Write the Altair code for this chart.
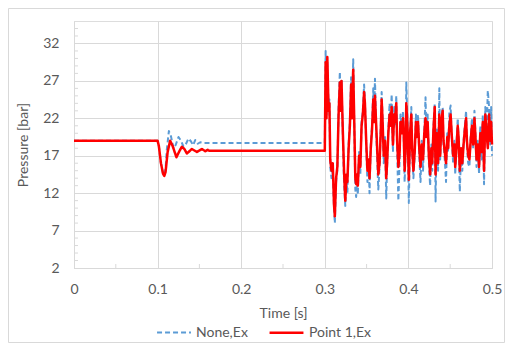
import altair as alt
import pandas as pd

# ---- data ----
# start-up transient (0 - 0.3 s)
t_none_pre = [0, 0.1, 0.1015, 0.104, 0.1065, 0.108, 0.1095, 0.111, 0.1135, 0.116, 0.119, 0.1215,
              0.125, 0.128, 0.131, 0.134, 0.137, 0.140, 0.1425, 0.145, 0.148, 0.151, 0.155, 0.300]
p_none_pre = [19, 19, 18.3, 16.0, 14.6, 14.4, 15.2, 17.8, 20.3, 19.6, 18.0, 18.4,
              19.5, 19.0, 18.2, 18.6, 19.3, 18.9, 18.4, 19.1, 18.6, 18.8, 18.7, 18.7]

t_point_pre = [0, 0.1, 0.1015, 0.104, 0.1065, 0.108, 0.1095, 0.112, 0.115, 0.118, 0.1225, 0.126,
               0.129, 0.132, 0.135, 0.138, 0.141, 0.144, 0.147, 0.150, 0.153, 0.157, 0.160, 0.162, 0.300]
p_point_pre = [19, 19, 18.3, 16.0, 14.6, 14.3, 14.8, 17.5, 19.0, 18.3, 16.8, 17.6,
               18.2, 17.9, 17.3, 17.6, 17.9, 17.7, 17.5, 17.7, 17.9, 17.6, 17.8, 17.65, 17.65]

# oscillating part (0.3 - 0.5 s)
t_osc = [0.3010, 0.3020, 0.3030, 0.3045, 0.3055, 0.3065, 0.3080, 0.3095, 0.3110, 0.3120,
         0.3135, 0.3150, 0.3165, 0.3180, 0.3190, 0.3200, 0.3215, 0.3230, 0.3245, 0.3260,
         0.3270, 0.3285, 0.3300, 0.3315, 0.3325, 0.3340, 0.3355, 0.3365, 0.3375, 0.3385,
         0.3395, 0.3410, 0.3425, 0.3440, 0.3455, 0.3470, 0.3480, 0.3495, 0.3510, 0.3525,
         0.3535, 0.3550, 0.3565, 0.3580, 0.3590, 0.3600, 0.3615, 0.3630, 0.3640, 0.3655,
         0.3670, 0.3680, 0.3690, 0.3705, 0.3720, 0.3735, 0.3745, 0.3760, 0.3775, 0.3785,
         0.3800, 0.3815, 0.3830, 0.3840, 0.3855, 0.3865, 0.3880, 0.3895, 0.3905, 0.3920,
         0.3935, 0.3945, 0.3955, 0.3965, 0.3975, 0.3990, 0.4005, 0.4020, 0.4035, 0.4045,
         0.4060, 0.4075, 0.4090, 0.4100, 0.4115, 0.4130, 0.4145, 0.4160, 0.4175, 0.4190,
         0.4205, 0.4215, 0.4230, 0.4245, 0.4260, 0.4275, 0.4285, 0.4300, 0.4315, 0.4325,
         0.4340, 0.4355, 0.4370, 0.4380, 0.4395, 0.4410, 0.4420, 0.4435, 0.4450, 0.4465,
         0.4475, 0.4490, 0.4505, 0.4520, 0.4535, 0.4550, 0.4560, 0.4575, 0.4590, 0.4600,
         0.4615, 0.4630, 0.4645, 0.4660, 0.4675, 0.4690, 0.4700, 0.4715, 0.4730, 0.4745,
         0.4760, 0.4775, 0.4790, 0.4800, 0.4815, 0.4830, 0.4845, 0.4860, 0.4875, 0.4890,
         0.4905, 0.4920, 0.4935, 0.4950, 0.4965, 0.4980, 0.4990, 0.5000]

p_point_osc = [29.5, 22.0, 30.2, 23.0, 24.0, 16.5, 15.0, 16.0, 10.5, 8.9,
               14.0, 15.5, 22.5, 26.8, 23.0, 27.0, 20.5, 15.0, 11.0, 14.5,
               13.5, 18.0, 21.0, 26.5, 22.0, 28.5, 20.0, 14.0, 13.2, 14.5,
               13.0, 17.0, 15.5, 21.0, 22.5, 25.5, 24.0, 19.0, 15.0, 16.5,
               14.0, 18.0, 20.5, 24.5, 21.5, 25.0, 21.0, 17.0, 14.5, 16.0,
               20.5, 24.5, 22.0, 17.0, 19.0, 14.0, 16.0, 20.0, 22.5, 21.0,
               23.5, 18.5, 22.5, 21.5, 24.0, 19.0, 15.5, 17.5, 21.5, 20.0,
               22.0, 19.5, 15.0, 17.5, 24.0, 20.5, 13.8, 20.0, 22.5, 18.0,
               15.0, 17.5, 21.5, 19.5, 21.5, 18.0, 15.5, 18.5, 16.5, 20.0,
               22.0, 19.5, 21.5, 17.0, 14.5, 18.0, 16.0, 20.5, 23.5, 14.5,
               20.0, 16.0, 22.5, 17.0, 21.5, 23.0, 19.0, 17.5, 16.0, 19.5,
               18.0, 21.0, 22.5, 19.5, 17.0, 18.5, 15.5, 18.0, 21.0, 19.5,
               15.0, 18.0, 16.0, 18.5, 20.5, 22.0, 19.0, 17.0, 16.5, 19.0,
               21.0, 18.5, 22.0, 20.0, 16.5, 18.5, 15.5, 20.0, 17.5, 21.5,
               15.0, 22.5, 20.0, 18.0, 22.5, 19.0, 21.5, 18.5]

p_none_osc = [31.0, 22.5, 29.5, 23.5, 24.5, 15.5, 14.0, 15.0, 10.0, 8.0,
              13.5, 15.0, 23.5, 28.2, 23.5, 27.2, 20.0, 13.5, 10.3, 13.5,
              12.0, 18.5, 21.5, 27.5, 22.5, 29.9, 19.5, 12.5, 11.5, 13.5,
              11.8, 17.5, 14.5, 21.5, 23.0, 26.5, 24.5, 18.5, 13.5, 16.0,
              12.0, 18.5, 21.0, 26.0, 22.0, 27.3, 20.5, 15.5, 12.5, 15.5,
              21.0, 25.5, 22.5, 16.0, 19.5, 11.3, 15.5, 20.5, 24.0, 21.5,
              25.2, 17.5, 23.5, 21.0, 25.0, 18.0, 11.0, 16.5, 22.5, 20.5,
              23.0, 19.0, 13.5, 17.0, 26.8, 21.0, 10.7, 19.5, 23.5, 17.5,
              14.0, 17.0, 22.5, 20.0, 22.5, 17.0, 13.5, 19.0, 15.0, 20.5,
              24.8, 20.0, 22.5, 16.0, 13.0, 18.5, 15.0, 21.0, 24.0, 10.9,
              20.5, 15.0, 26.0, 16.5, 22.0, 23.5, 18.5, 16.5, 13.5, 20.0,
              17.5, 22.8, 23.7, 19.0, 16.0, 19.0, 14.5, 18.5, 22.0, 19.0,
              12.2, 17.5, 15.0, 19.0, 21.0, 23.0, 18.5, 16.0, 15.5, 19.5,
              22.0, 18.0, 23.0, 20.5, 15.5, 19.0, 14.5, 21.0, 16.5, 22.5,
              13.2, 23.5, 20.0, 25.7, 23.5, 18.5, 23.5, 17.0]

series_names = ["None,Ex", "Point 1,Ex"]
series_colors = ["#5B9BD5", "#FF0000"]

y_major = [2, 7, 12, 17, 22, 27, 32]
y_minor = [v for v in range(3, 35) if (v - 2) % 5 != 0]
x_major = [0, 0.1, 0.2, 0.3, 0.4, 0.5]
x_minor = [0.05, 0.15, 0.25, 0.35, 0.45]

# ---- table ----
rows = []
for t, p in zip(t_none_pre + t_osc, p_none_pre + p_none_osc):
    rows.append({"t": t, "p": p, "s": series_names[0]})
for t, p in zip(t_point_pre + t_osc, p_point_pre + p_point_osc):
    rows.append({"t": t, "p": p, "s": series_names[1]})
df = pd.DataFrame(rows)

W, H = 418, 247
TXT = "#595959"
GRID = "#D9D9D9"
FONT = "Lato"

xscale = alt.Scale(domain=[0, 0.5], nice=False, zero=False)
yscale = alt.Scale(domain=[2, 35], nice=False, zero=False)

lines = alt.Chart(df).mark_line(strokeJoin="round").encode(
    x=alt.X("t:Q", scale=xscale,
            axis=alt.Axis(values=x_major, format="~g", title="Time [s]", grid=True,
                          gridColor=GRID, domainColor=GRID, tickSize=0, labelPadding=14,
                          labelFlush=False, labelOverlap=False,
                          labelFontSize=14, labelColor=TXT, labelFont=FONT,
                          titleFont=FONT, titleFontSize=14, titleColor=TXT,
                          titleFontWeight="normal", titlePadding=10)),
    y=alt.Y("p:Q", scale=yscale,
            axis=alt.Axis(values=y_major, title="Pressure [bar]", grid=True,
                          gridColor=GRID, domainColor=GRID, tickSize=0, labelPadding=15,
                          labelFlush=False, labelOverlap=False,
                          labelFontSize=14, labelColor=TXT, labelFont=FONT,
                          titleFont=FONT, titleFontSize=14, titleColor=TXT,
                          titleFontWeight="normal", titlePadding=12)),
    color=alt.Color("s:N", scale=alt.Scale(domain=series_names, range=series_colors),
                    legend=alt.Legend(title=None, orient="none", direction="horizontal",
                                      legendX=82, legendY=293, symbolType="stroke",
                                      symbolSize=1150, symbolStrokeWidth=2.5,
                                      labelFont=FONT, labelFontSize=14, labelColor=TXT,
                                      labelOffset=4, columnPadding=16)),
    strokeDash=alt.StrokeDash("s:N", scale=alt.Scale(domain=series_names,
                                                    range=[[5, 3], [1, 0]])),
    strokeWidth=alt.StrokeWidth("s:N", scale=alt.Scale(domain=series_names, range=[2, 2.5]),
                                legend=None),
    order=alt.Order("t:Q"),
)

ymin_df = pd.DataFrame({"v": y_minor})
y_ticks = alt.Chart(ymin_df).mark_rule(color=GRID).encode(
    y=alt.Y("v:Q", scale=yscale), x=alt.value(0), x2=alt.value(4))

xmin_df = pd.DataFrame({"v": x_minor})
x_ticks = alt.Chart(xmin_df).mark_rule(color=GRID).encode(
    x=alt.X("v:Q", scale=xscale), y=alt.value(H - 4), y2=alt.value(H))

border = alt.Chart(pd.DataFrame({"a": [0]})).mark_rect(
    fill=None, stroke=GRID, strokeWidth=1).encode(
    x=alt.value(-65.5), x2=alt.value(W + 12.5), y=alt.value(-12.5), y2=alt.value(H + 74.5))

chart = alt.layer(border, y_ticks, x_ticks, lines).properties(
    width=W, height=H,
    autosize=alt.AutoSizeParams(type="none"),
    padding={"left": 66, "top": 13, "right": 13, "bottom": 75},
).configure_view(stroke=None).configure(background="white")

chart.save("out.html", embed_options={"renderer": "svg", "actions": False})
